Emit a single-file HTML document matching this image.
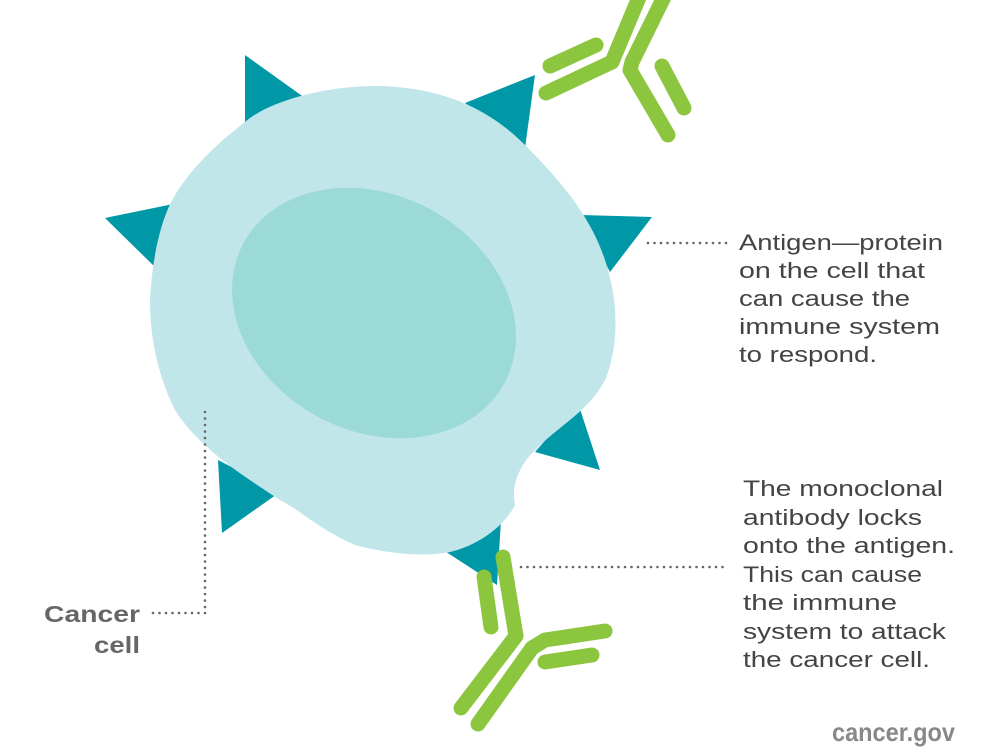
<!DOCTYPE html>
<html><head><meta charset="utf-8"><style>
html,body{margin:0;padding:0;background:#fff;}
svg{display:block;}
text{font-family:"Liberation Sans",sans-serif;}
</style></head><body>
<svg width="1000" height="751" viewBox="0 0 1000 751" xmlns="http://www.w3.org/2000/svg">
<g fill="#0097a7">
<polygon points="245,55 305,98 245,128"/>
<polygon points="465,103 535,75 525,148"/>
<polygon points="105,218 178,203 158,270"/>
<polygon points="580,215 652,217 610,272"/>
<polygon points="535,452 578,403 600,470"/>
<polygon points="218,460 280,492 222,533"/>
<polygon points="440,548 501,520 497,585"/>
</g>
<path fill="#c1e6ea" d="M245,122 C270,100 330,85 380,86 C430,88 480,100 525,145 C560,180 590,215 605,260 C620,305 618,350 605,380 C590,410 560,425 535,450 C515,470 512,490 515,505 C505,525 480,545 450,552 C420,558 380,552 355,545 C320,530 300,510 280,500 C250,480 200,450 175,410 C155,370 150,330 150,300 C152,260 160,220 175,195 C190,170 215,145 245,122 Z"/>
<ellipse cx="374" cy="313" rx="148" ry="118" transform="rotate(28 374 313)" fill="#9cd9d9"/>
<g stroke="#8cc63f" stroke-width="15" stroke-linecap="round" stroke-linejoin="round" fill="none">
<polyline points="503,557 516,636 461,708"/>
<line x1="484" y1="577" x2="491" y2="627"/>
<polyline points="478,724 532,648 545,640 605,631"/>
<line x1="545" y1="662" x2="592" y2="655"/>
<polyline points="546,93 612,62 640,-5"/>
<line x1="550" y1="66" x2="596" y2="45"/>
<polyline points="665,-5 632,62 630,70 668,135"/>
<line x1="662" y1="66" x2="684" y2="108"/>
</g>
<g stroke="#666" stroke-width="2.6" stroke-linecap="round" stroke-dasharray="0 6.5" fill="none">
<line x1="648" y1="243" x2="730" y2="243"/>
<line x1="205" y1="412" x2="205" y2="612"/>
<line x1="205" y1="613" x2="151" y2="613"/>
<line x1="521" y1="567" x2="728" y2="567"/>
</g>
<g fill="#444" font-size="22" lengthAdjust="spacingAndGlyphs">
<text x="739" y="250" textLength="204" lengthAdjust="spacingAndGlyphs">Antigen—protein</text>
<text x="739" y="278" textLength="186" lengthAdjust="spacingAndGlyphs">on the cell that</text>
<text x="739" y="306" textLength="171" lengthAdjust="spacingAndGlyphs">can cause the</text>
<text x="739" y="334" textLength="201" lengthAdjust="spacingAndGlyphs">immune system</text>
<text x="739" y="362" textLength="138" lengthAdjust="spacingAndGlyphs">to respond.</text>
<text x="743" y="496" textLength="200" lengthAdjust="spacingAndGlyphs">The monoclonal</text>
<text x="743" y="525" textLength="179" lengthAdjust="spacingAndGlyphs">antibody locks</text>
<text x="743" y="553" textLength="212" lengthAdjust="spacingAndGlyphs">onto the antigen.</text>
<text x="743" y="582" textLength="179" lengthAdjust="spacingAndGlyphs">This can cause</text>
<text x="743" y="610" textLength="154" lengthAdjust="spacingAndGlyphs">the immune</text>
<text x="743" y="639" textLength="203" lengthAdjust="spacingAndGlyphs">system to attack</text>
<text x="743" y="667" textLength="187" lengthAdjust="spacingAndGlyphs">the cancer cell.</text>
</g>
<g fill="#666" font-size="23" font-weight="bold">
<text x="44" y="622" textLength="96" lengthAdjust="spacingAndGlyphs">Cancer</text>
<text x="94" y="653" textLength="46" lengthAdjust="spacingAndGlyphs">cell</text>
</g>
<text x="832" y="741" fill="#888" font-size="26" font-weight="bold" textLength="123" lengthAdjust="spacingAndGlyphs">cancer.gov</text>
</svg>
</body></html>
